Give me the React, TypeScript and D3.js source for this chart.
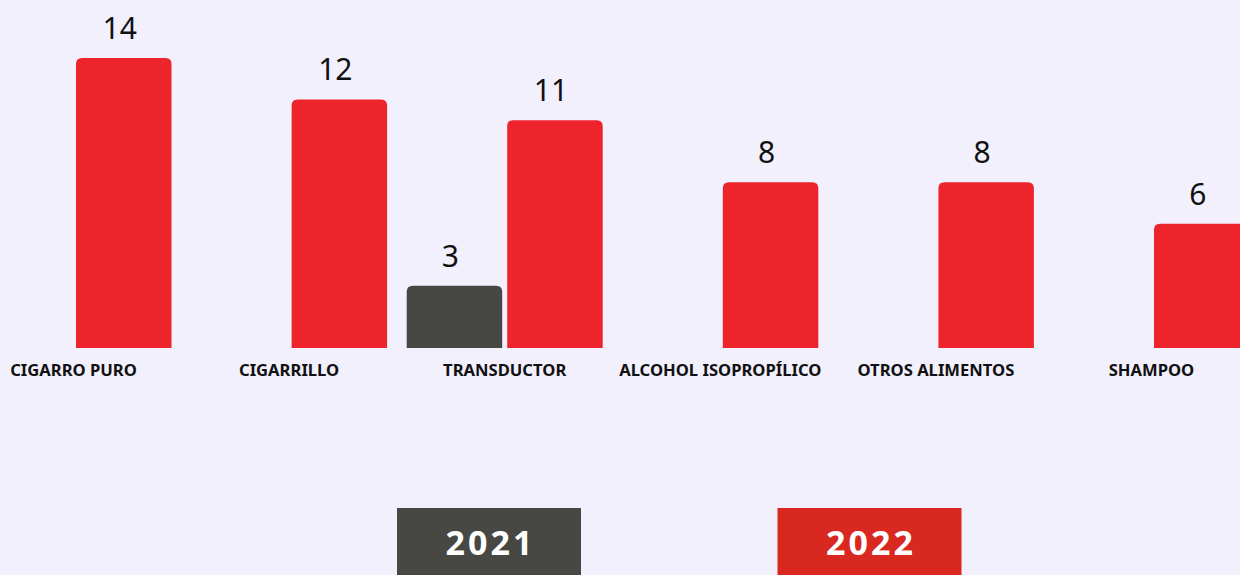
import React, { useRef, useEffect } from "react";
import * as d3 from "d3";

const categories = [
  "CIGARRO PURO",
  "CIGARRILLO",
  "TRANSDUCTOR",
  "ALCOHOL ISOPROPÍLICO",
  "OTROS ALIMENTOS",
  "SHAMPOO",
];
const years = ["2021", "2022"];
const values2021 = [0, 0, 3, 0, 0, 0];
const values2022 = [14, 12, 11, 8, 8, 6];

const W = 1240;
const H = 575;
const BG = "#f2f0fd";
const barColors = { "2021": "#474843", "2022": "#ed242b" };
const legendColors = { "2021": "#474843", "2022": "#d9281f" };

// rounded top corners only
const topRounded = (x, y, w, h, r) => {
  const rr = Math.min(r, h, w / 2);
  return `M${x},${y + h}V${y + rr}Q${x},${y} ${x + rr},${y}H${x + w - rr}Q${x + w},${y} ${x + w},${y + rr}V${y + h}Z`;
};

const App = () => {
  const svgRef = useRef(null);

  useEffect(() => {
    const svg = d3.select(svgRef.current);
    svg.selectAll("*").remove();

    const baseY = 348;
    const x = d3.scaleBand().domain(categories).range([-44.1, 1269.1]).padding(0.091);
    const xs = d3.scaleBand().domain(years).range([0, x.bandwidth()]).paddingInner(0.05);
    const y = d3.scaleLinear().domain([0, 14]).range([baseY, 58]);

    svg.append("rect").attr("width", W).attr("height", H).attr("fill", BG);

    const rows = categories.flatMap((c, i) => [
      { cat: c, year: "2021", v: values2021[i] },
      { cat: c, year: "2022", v: values2022[i] },
    ]).filter((d) => d.v > 0);

    const g = svg.append("g");
    g.selectAll("path.bar")
      .data(rows)
      .enter()
      .append("path")
      .attr("class", "bar")
      .attr("fill", (d) => barColors[d.year])
      .attr("d", (d) => topRounded(x(d.cat) + xs(d.year), y(d.v), xs.bandwidth(), baseY - y(d.v), 6));

    g.selectAll("text.val")
      .data(rows)
      .enter()
      .append("text")
      .attr("class", "val")
      .attr("x", (d) => x(d.cat) + xs(d.year) + xs.bandwidth() / 2 - 4)
      .attr("y", (d) => y(d.v) - 19)
      .attr("text-anchor", "middle")
      .attr("font-family", "'Noto Sans', sans-serif")
      .attr("font-weight", 400)
      .attr("font-size", 30)
      .attr("fill", "#111")
      .text((d) => d.v);

    g.selectAll("text.cat")
      .data(categories)
      .enter()
      .append("text")
      .attr("class", "cat")
      .attr("x", (d) => x(d) + x.bandwidth() / 2)
      .attr("y", 376)
      .attr("text-anchor", "middle")
      .attr("font-family", "'Noto Sans', sans-serif")
      .attr("font-weight", 700)
      .attr("font-size", 16.6)
      .attr("fill", "#111")
      .text((d) => d);

    const legendX = d3.scalePoint().domain(years).range([489, 869.5]);
    const lg = svg.append("g")
      .selectAll("g")
      .data(years)
      .enter()
      .append("g")
      .attr("transform", (d) => `translate(${legendX(d)},0)`);
    lg.append("rect")
      .attr("x", -92)
      .attr("y", 508)
      .attr("width", 184)
      .attr("height", 80)
      .attr("fill", (d) => legendColors[d]);
    lg.append("text")
      .attr("x", 1.5)
      .attr("y", 555)
      .attr("text-anchor", "middle")
      .attr("font-family", "'Noto Sans', sans-serif")
      .attr("font-weight", 700)
      .attr("font-size", 34)
      .attr("letter-spacing", 3)
      .attr("fill", "#fff")
      .text((d) => d);
  }, []);

  return (
    <svg
      ref={svgRef}
      width={W}
      height={H}
      style={{ position: "absolute", left: 0, top: 0, display: "block" }}
    />
  );
};

export default App;
